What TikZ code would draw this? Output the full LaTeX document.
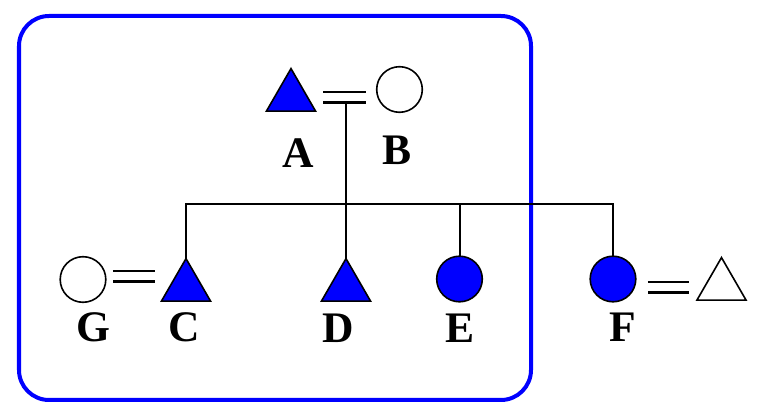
\documentclass[tikz,border=0pt]{standalone}
\usepackage{fontspec}
\setmainfont{Liberation Serif}
\usetikzlibrary{shapes.geometric,calc}

\begin{document}
\begin{tikzpicture}[x=0.025cm, y=-0.025cm,
    male/.style={regular polygon, regular polygon sides=3, minimum size=1.42cm,
        inner sep=0pt, outer sep=0pt, draw=black, line width=0.04cm},
    female/.style={circle, minimum size=1.14cm, inner sep=0pt, outer sep=0pt,
        draw=black, line width=0.04cm},
    affected/.style={fill=blue},
    tag/.style={font=\fontsize{31}{34}\selectfont\bfseries, inner sep=0pt},
    link/.style={line width=0.05cm},
    marry/.style={line width=0.07cm, double, double distance=0.2cm}]
    \useasboundingbox (0,0) rectangle (759,405);

    % family box
    \draw[blue, line width=0.1cm, rounded corners=0.75cm] (19,16) rectangle (531,400);

    % parents
    \node[male, affected] (A) at (291,97) {};
    \node[female] (B) at (399.5,89.5) {};
    \node[tag] (lA) at (298,153) {A};
    \node[tag] (lB) at (397,150) {B};

    % children and spouses
    \node[female] (G) at (83,279.5) {};
    \node[male, affected] (C) at (186,287) {};
    \node[male, affected] (D) at (346,287) {};
    \node[female, affected] (E) at (459.5,279) {};
    \node[female, affected] (F) at (613,279) {};
    \node[male] (H) at (721.5,286) {};
    \node[tag] (lG) at (93,327) {G};
    \node[tag] (lC) at (184,327) {C};
    \node[tag] (lD) at (338,328) {D};
    \node[tag] (lE) at (460,328) {E};
    \node[tag] (lF) at (623,327) {F};

    \coordinate (ab) at (346,103);
    \coordinate (sib) at (346,204);

    % lines of descent
    \draw[link] (ab) -- (sib);
    \draw[link] (C.north) |- (sib) -| (F.north);
    \draw[link] (sib) -- (D.north);
    \draw[link] (E.north) -- (E.north |- sib);

    % marriages
    \draw[marry] ($(A.east)+(16,0.5)$) -- ($(B.west)+(-10.5,8)$);
    \draw[marry] ($(G.east)+(7,-3)$) -- ++(42,0);
    \draw[marry] ($(F.east)+(12,8.5)$) -- ++(41,0);
\end{tikzpicture}
\end{document}
